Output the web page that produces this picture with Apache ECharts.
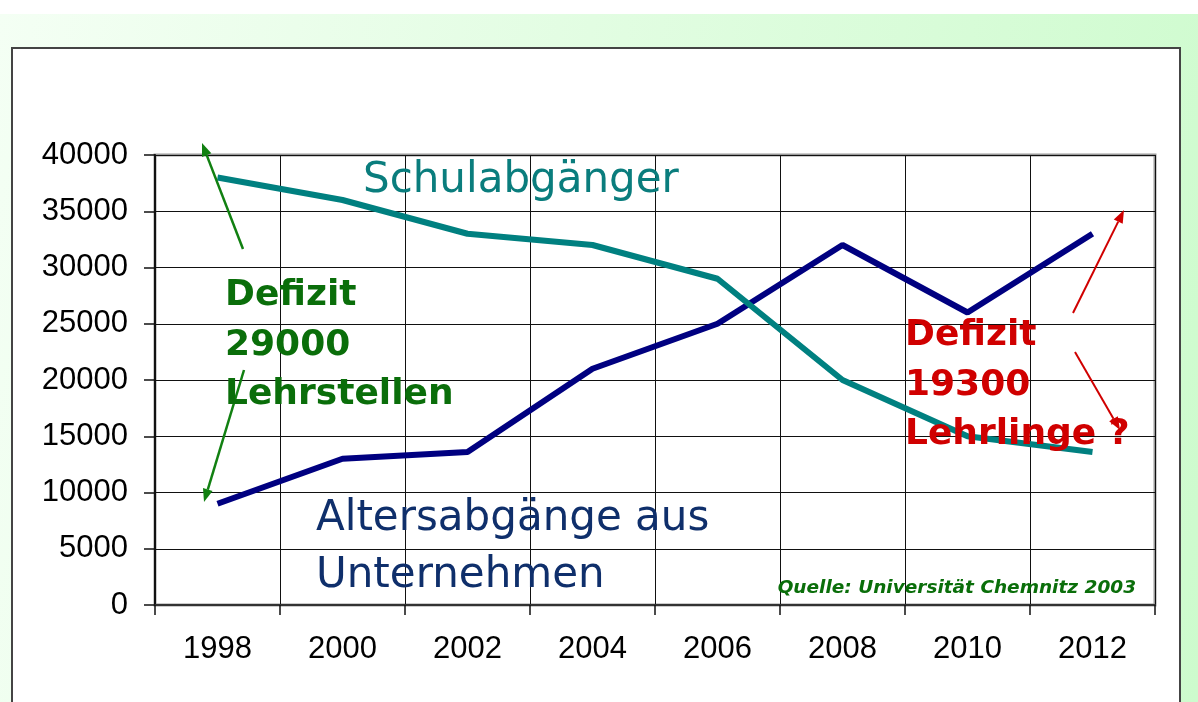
<!DOCTYPE html>
<html>
<head>
<meta charset="utf-8">
<script src="https://cdn.jsdelivr.net/npm/echarts@6/dist/echarts.min.js"></script>
<style>
  html, body { margin: 0; padding: 0; width: 1198px; height: 702px; overflow: hidden; background: #ffffff; }
  #bg { position: absolute; left: 0; top: 14px; width: 1198px; height: 688px;
        background: linear-gradient(100deg, #f4fff4 0%, #e2fde2 45%, #cdfbcd 100%); }
  #panel { position: absolute; left: 11px; top: 47px; width: 1166px; height: 660px;
        background: #ffffff; border: 2px solid #444444; }
  #chart { position: absolute; left: 0; top: 0; width: 1198px; height: 702px; }
</style>
</head>
<body>
<div id="bg"></div>
<div id="panel"></div>
<div id="chart"></div>
<script>
// ---- data ----
const years = ['1998', '2000', '2002', '2004', '2006', '2008', '2010', '2012'];
const schulabgaenger = [38000, 36000, 33000, 32000, 29000, 20000, 15000, 13600];
const altersabgaenge = [9000, 13000, 13600, 21000, 25000, 32000, 26000, 33000];
const yTicks = { min: 0, max: 40000, interval: 5000 };

// ---- annotation helpers ----
function arrow(x1, y1, x2, y2, color, w) {
  const dx = x2 - x1, dy = y2 - y1, len = Math.sqrt(dx * dx + dy * dy);
  const ux = dx / len, uy = dy / len, hl = 13, hw = 5;
  const bx = x2 - ux * hl, by = y2 - uy * hl;
  return [
    { type: 'line', silent: true, z: 50,
      shape: { x1: x1, y1: y1, x2: bx, y2: by },
      style: { stroke: color, lineWidth: w } },
    { type: 'polygon', silent: true, z: 50,
      shape: { points: [[x2, y2], [bx - uy * hw, by + ux * hw], [bx + uy * hw, by - ux * hw]] },
      style: { fill: color } }
  ];
}
function label(text, x, y, size, color, weight, extra) {
  return { type: 'text', silent: true, z: 60, x: x, y: y,
    style: { text: text, fill: color,
             font: (extra && extra.italic ? 'italic ' : '') + weight + ' ' + size + 'px "DejaVu Sans"',
             textVerticalAlign: 'middle', textAlign: (extra && extra.align) || 'left' } };
}

const green = '#0a6e0a', red = '#d00000';
const graphics = [].concat(
  label('Schulabgänger', 363, 181, 42, '#0a7d7d', 'normal'),
  label('Altersabgänge aus', 316, 519, 42, '#0f2f6b', 'normal'),
  label('Unternehmen', 316, 576, 42, '#0f2f6b', 'normal'),
  label('Defizit', 225, 296, 36, green, 'bold'),
  label('29000', 225, 346, 36, green, 'bold'),
  label('Lehrstellen', 225, 395, 36, green, 'bold'),
  label('Defizit', 905, 336, 36, red, 'bold'),
  label('19300', 905, 386, 36, red, 'bold'),
  label('Lehrlinge ?', 905, 435, 36, red, 'bold'),
  label('Quelle: Universität Chemnitz 2003', 1136, 588, 18.5, '#0a6e0a', 'bold', { italic: true, align: 'right' }),
  arrow(243, 249, 202, 143, '#118011', 2.5),
  arrow(244, 370, 204, 502, '#118011', 2.5),
  arrow(1073, 313, 1124, 210, '#d00000', 2),
  arrow(1075, 352, 1120, 430, '#d00000', 2)
);

const chart = echarts.init(document.getElementById('chart'), null, { renderer: 'canvas' });
chart.setOption({
  backgroundColor: 'transparent',
  animation: false,
  grid: { left: 155, top: 155, right: 43, bottom: 97, show: true,
          borderColor: '#9a9a9a', borderWidth: 3, backgroundColor: 'transparent' },
  xAxis: {
    type: 'category', data: years, boundaryGap: true,
    axisLine: { lineStyle: { color: '#333333', width: 2 } },
    axisTick: { show: true, length: 10, lineStyle: { color: '#111111', width: 1.5 } },
    splitLine: { show: true, interval: 0, lineStyle: { color: '#111111', width: 1 } },
    axisLabel: { color: '#000000', fontSize: 31, fontFamily: 'Liberation Sans', margin: 29, interval: 0 }
  },
  yAxis: {
    type: 'value', min: yTicks.min, max: yTicks.max, interval: yTicks.interval,
    axisLine: { show: true, lineStyle: { color: '#111111', width: 2 } },
    axisTick: { show: true, length: 11, lineStyle: { color: '#111111', width: 1.5 } },
    splitLine: { show: true, lineStyle: { color: '#111111', width: 1 } },
    axisLabel: { color: '#000000', fontSize: 31, fontFamily: 'Liberation Sans', margin: 27,
                 formatter: function (v) { return String(v); } }
  },
  series: [
    { name: 'Altersabgänge aus Unternehmen', type: 'line', data: altersabgaenge, symbol: 'none',
      lineStyle: { color: '#000080', width: 6 }, z: 3 },
    { name: 'Schulabgänger', type: 'line', data: schulabgaenger, symbol: 'none',
      lineStyle: { color: '#008080', width: 6 }, z: 4 }
  ],
  graphic: graphics
});
</script>
</body>
</html>
